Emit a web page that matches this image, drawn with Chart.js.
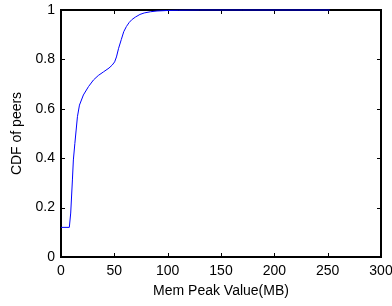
<!DOCTYPE html>
<html>
<head>
<meta charset="utf-8">
<script src="https://cdn.jsdelivr.net/npm/chart.js@4.4.1/dist/chart.umd.min.js"></script>
<style>
  html, body { margin: 0; padding: 0; background: #fff; }
  #wrap { width: 392px; height: 306px; }
</style>
</head>
<body>
<div id="wrap"><canvas id="cdfChart" width="392" height="306"></canvas></div>
<script>
// values
const memPeak = [0, 7.8, 9.1, 10.7, 11.6, 13, 14.2, 15.4, 17.3, 21, 25.8, 30.5, 35, 40, 45, 48, 50.3, 52, 54, 56.5, 58.8, 61.3, 64, 66.7, 70, 74, 78, 84, 90, 100, 110, 130, 170, 252];
const cdfPeers = [0.12, 0.12, 0.178, 0.312, 0.393, 0.46, 0.514, 0.568, 0.615, 0.656, 0.69, 0.717, 0.735, 0.75, 0.765, 0.777, 0.79, 0.81, 0.845, 0.88, 0.912, 0.933, 0.95, 0.962, 0.972, 0.982, 0.988, 0.993, 0.996, 0.998, 0.999, 1, 1, 1];
const xTicks = [0, 50, 100, 150, 200, 250, 300];
const yTicks = [0, 0.2, 0.4, 0.6, 0.8, 1];

const FONT = 'Liberation Sans, Arial, sans-serif';

// matlab style box with inward ticks
const boxPlugin = {
    id: 'matlabBox',
    beforeDatasetsDraw(chart) {
        const { ctx, chartArea: a, scales } = chart;
        const tl = 4;
        ctx.save();
        ctx.strokeStyle = '#000';
        ctx.lineWidth = 1;
        ctx.beginPath();
        xTicks.forEach(v => {
            const px = Math.round(scales.x.getPixelForValue(v)) + 0.5;
            ctx.moveTo(px, a.bottom); ctx.lineTo(px, a.bottom - tl);
            ctx.moveTo(px, a.top); ctx.lineTo(px, a.top + tl);
        });
        yTicks.forEach(v => {
            const py = Math.round(scales.y.getPixelForValue(v)) + 0.5;
            ctx.moveTo(a.left, py); ctx.lineTo(a.left + tl, py);
            ctx.moveTo(a.right, py); ctx.lineTo(a.right - tl, py);
        });
        ctx.stroke();
        ctx.lineWidth = 2;
        ctx.strokeRect(a.left, a.top, a.right - a.left, a.bottom - a.top);
        ctx.restore();
    }
};

new Chart(document.getElementById('cdfChart'), {
    type: 'line',
    data: {
        datasets: [{
            data: memPeak.map((x, i) => ({ x: x, y: cdfPeers[i] })),
            borderColor: '#0000ff',
            borderWidth: 1,
            pointRadius: 0,
            tension: 0,
            fill: false,
            clip: false
        }]
    },
    options: {
        responsive: false,
        animation: false,
        layout: { padding: { top: 10, right: 11, left: 0, bottom: 0 } },
        plugins: { legend: { display: false }, tooltip: { enabled: false } },
        scales: {
            x: {
                type: 'linear',
                min: 0,
                max: 300,
                afterBuildTicks: s => { s.ticks = xTicks.map(v => ({ value: v })); },
                afterFit: s => { s.height = 49; s.paddingLeft = 0; s.paddingRight = 0; },
                grid: { display: false, drawTicks: false },
                border: { display: false },
                ticks: { color: '#000', padding: 6, maxRotation: 0, font: { family: FONT, size: 14 } },
                title: {
                    display: true,
                    text: 'Mem Peak Value(MB)',
                    color: '#000',
                    padding: { top: 0, bottom: 6 },
                    font: { family: FONT, size: 14 }
                }
            },
            y: {
                type: 'linear',
                min: 0,
                max: 1,
                afterBuildTicks: s => { s.ticks = yTicks.map(v => ({ value: v })); },
                afterFit: s => { s.width = 61; s.paddingTop = 0; s.paddingBottom = 0; },
                grid: { display: false, drawTicks: false },
                border: { display: false },
                ticks: {
                    color: '#000',
                    padding: 6,
                    font: { family: FONT, size: 14 },
                    callback: v => String(Math.round(v * 10) / 10)
                },
                title: {
                    display: true,
                    text: 'CDF of peers',
                    color: '#000',
                    padding: { top: 9, bottom: 0 },
                    font: { family: FONT, size: 14 }
                }
            }
        }
    },
    plugins: [boxPlugin]
});
</script>
</body>
</html>
